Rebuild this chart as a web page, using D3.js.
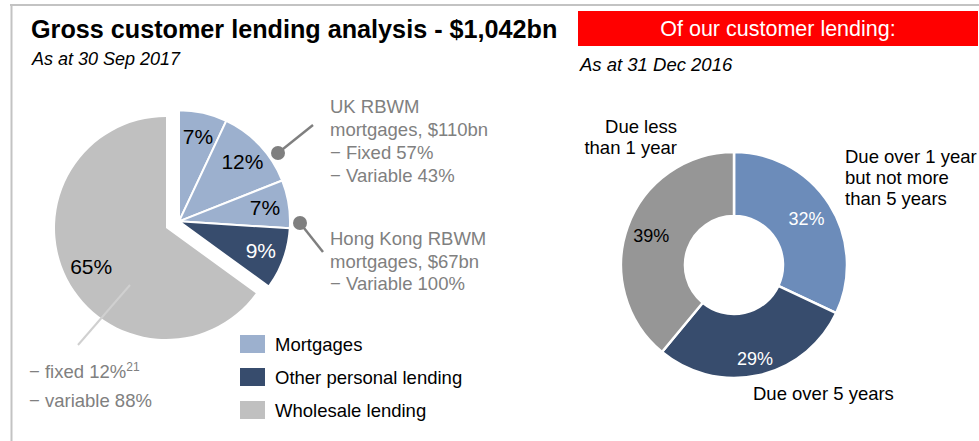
<!DOCTYPE html>
<html>
<head>
<meta charset="utf-8">
<script src="https://cdn.jsdelivr.net/npm/d3@7"></script>
<style>
  body { margin: 0; background: #fff; }
  svg { display: block; font-family: "Liberation Sans", Arial, sans-serif; }
</style>
</head>
<body>
<svg id="chart" width="979" height="441"></svg>
<script>
// ---------- data ----------
const sliceGroups = ["Mortgages", "Mortgages", "Mortgages", "Other personal lending", "Wholesale lending"];
const sliceValues = [7, 12, 7, 9, 65];
const sliceLabels = ["7%", "12%", "7%", "9%", "65%"];
const legendCategories = ["Mortgages", "Other personal lending", "Wholesale lending"];

const maturityCategories = [
  ["Due over 1 year", "but not more", "than 5 years"],
  ["Due over 5 years"],
  ["Due less", "than 1 year"]
];
const maturityValues = [32, 29, 39];
const maturityLabels = ["32%", "29%", "39%"];

const ukNotes = ["UK RBWM", "mortgages, $110bn", "\u2212 Fixed 57%", "\u2212 Variable 43%"];
const hkNotes = ["Hong Kong RBWM", "mortgages, $67bn", "\u2212 Variable 100%"];

// ---------- setup ----------
const svg = d3.select("#chart");
const groupColor = d3.scaleOrdinal()
  .domain(legendCategories)
  .range(["#9cb0ce", "#374c6d", "#c0c0c0"]);
const maturityColor = d3.scaleOrdinal()
  .domain([0, 1, 2])
  .range(["#6c8cba", "#374c6d", "#969696"]);

// frame lines
svg.append("line").attr("x1", 10).attr("x2", 979).attr("y1", 5).attr("y2", 5)
  .attr("stroke", "#c3c3c3").attr("stroke-width", 2);
svg.append("line").attr("x1", 11.5).attr("x2", 11.5).attr("y1", 4).attr("y2", 441)
  .attr("stroke", "#c3c3c3").attr("stroke-width", 2);

// titles
svg.append("text").attr("x", 31).attr("y", 38)
  .attr("font-size", 25.2).attr("font-weight", "bold").attr("fill", "#000")
  .text("Gross customer lending analysis - $1,042bn");
svg.append("text").attr("x", 32).attr("y", 65)
  .attr("font-size", 18).attr("font-style", "italic").attr("fill", "#000")
  .text("As at 30 Sep 2017");

svg.append("rect").attr("x", 578).attr("y", 11).attr("width", 400).attr("height", 35)
  .attr("fill", "#ff0000");
svg.append("text").attr("x", 778).attr("y", 36).attr("text-anchor", "middle")
  .attr("font-size", 21.5).attr("fill", "#fff")
  .text("Of our customer lending:");
svg.append("text").attr("x", 580).attr("y", 71)
  .attr("font-size", 18.5).attr("font-style", "italic").attr("fill", "#000")
  .text("As at 31 Dec 2016");

// ---------- left pie ----------
const cx = 166, cy = 228, R = 111;
const pie = d3.pie().sort(null).value(d => d.v);
const pieData = pie(sliceValues.map((v, i) => ({ v, g: sliceGroups[i], l: sliceLabels[i] })));
const arc = d3.arc().innerRadius(0).outerRadius(R);
const explodedEnd = pieData.filter(d => d.data.g !== "Wholesale lending").reduce((m, d) => Math.max(m, d.endAngle), 0);
const explodeAngle = explodedEnd / 2;
const explodeDist = 14.6;
const ex = Math.sin(explodeAngle) * explodeDist, ey = -Math.cos(explodeAngle) * explodeDist;

const pg = svg.append("g").attr("transform", `translate(${cx},${cy})`);
const slices = pg.selectAll("g.slice").data(pieData).join("g")
  .attr("class", "slice")
  .attr("transform", d => d.data.g === "Wholesale lending" ? null : `translate(${ex},${ey})`);
slices.append("path").attr("d", arc)
  .attr("fill", d => groupColor(d.data.g))
  .attr("stroke", "#fff").attr("stroke-width", d => d.data.g === "Wholesale lending" ? 0 : 2)
  .attr("stroke-linejoin", "round");

// wholesale callout (faint)
svg.append("line").attr("x1", cx - 36).attr("y1", cy + 57).attr("x2", 78).attr("y2", 345)
  .attr("stroke", "#d0d0d0").attr("stroke-width", 2);

slices.append("text")
  .attr("transform", d => {
    const r = d.data.g === "Wholesale lending" ? 84 : 87;
    const c = d3.arc().innerRadius(r).outerRadius(r).centroid(d);
    return `translate(${c[0]},${c[1]})`;
  })
  .attr("text-anchor", "middle").attr("dy", "0.36em")
  .attr("font-size", 21)
  .attr("fill", d => d.data.g === "Other personal lending" ? "#fff" : "#000")
  .text(d => d.data.l);

// callouts
const calloutColor = "#7f7f7f";
function callout(dot, end) {
  svg.append("line").attr("x1", dot[0]).attr("y1", dot[1]).attr("x2", end[0]).attr("y2", end[1])
    .attr("stroke", calloutColor).attr("stroke-width", 2.5);
  svg.append("circle").attr("cx", dot[0]).attr("cy", dot[1]).attr("r", 7).attr("fill", calloutColor);
}
callout([278, 153], [313, 125]);
callout([300, 223], [323, 252]);

function noteBlock(lines, x, y0, lh) {
  const t = svg.append("text").attr("font-size", 18.5).attr("fill", "#808080");
  lines.forEach((s, i) => t.append("tspan").attr("x", x).attr("y", y0 + i * lh).text(s));
}
noteBlock(ukNotes, 330, 113, 23);
noteBlock(hkNotes, 330, 245, 22.5);

const wt = svg.append("text").attr("font-size", 18.5).attr("fill", "#808080");
wt.append("tspan").attr("x", 29).attr("y", 378).text("\u2212 fixed 12%");
wt.append("tspan").attr("font-size", 12).attr("dy", -7).text("21");
svg.append("text").attr("x", 29).attr("y", 407).attr("font-size", 18.5).attr("fill", "#808080")
  .text("\u2212 variable 88%");

// legend
const legendY = d3.scalePoint().domain(legendCategories).range([335, 401]);
const lg = svg.selectAll("g.legend").data(legendCategories).join("g").attr("class", "legend")
  .attr("transform", d => `translate(240,${legendY(d)})`);
lg.append("rect").attr("width", 25).attr("height", 18).attr("fill", d => groupColor(d));
lg.append("text").attr("x", 35).attr("y", 16).attr("font-size", 18.5).attr("fill", "#000").text(d => d);

// ---------- right donut ----------
const dcx = 734, dcy = 265, dR = 113, dr = 49;
const dPie = d3.pie().sort(null).value(d => d);
const dData = dPie(maturityValues);
const dArc = d3.arc().innerRadius(dr).outerRadius(dR);
const dg = svg.append("g").attr("transform", `translate(${dcx},${dcy})`);
dg.selectAll("path").data(dData).join("path")
  .attr("d", dArc)
  .attr("fill", (d, i) => maturityColor(i))
  .attr("stroke", "#fff").attr("stroke-width", 2.5);
const dLabelR = [86, 96, 88];
dg.selectAll("text").data(dData).join("text")
  .attr("transform", (d, i) => {
    const c = d3.arc().innerRadius(dLabelR[i]).outerRadius(dLabelR[i]).centroid(d);
    return `translate(${c[0]},${c[1]})`;
  })
  .attr("text-anchor", "middle").attr("dy", "0.36em")
  .attr("font-size", 18)
  .attr("fill", (d, i) => i === 2 ? "#000" : "#fff")
  .text((d, i) => maturityLabels[i]);

// category labels
function catLabel(lines, x, y0, lh, anchor) {
  const t = svg.append("text").attr("font-size", 18.5).attr("fill", "#000").attr("text-anchor", anchor);
  lines.forEach((s, i) => t.append("tspan").attr("x", x).attr("y", y0 + i * lh).text(s));
}
catLabel(maturityCategories[0], 845, 163, 21, "start");
catLabel(maturityCategories[1], 753, 400, 21, "start");
catLabel(maturityCategories[2], 677, 133, 21, "end");
</script>
</body>
</html>
